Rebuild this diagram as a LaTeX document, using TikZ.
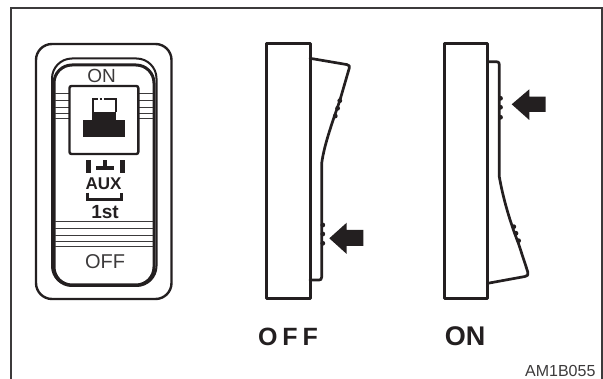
\documentclass[tikz,border=0pt]{standalone}
\usepackage{fontspec}
\setmainfont{Liberation Sans}
\definecolor{ink}{HTML}{231F20}
\definecolor{soft}{HTML}{3C3A3B}
\newcommand{\fs}[1]{\fontsize{#1}{#1}\selectfont}
\tikzset{
  frameline/.style={draw=soft,line width=2pt},
  body/.style={draw=ink,line width=3pt,line join=round},
  rocker/.style={draw=ink,line width=2.7pt,line join=round,line cap=round},
  stripe/.style={draw=soft,line width=1pt},
  bump/.style={fill=ink,draw=none},
  solidink/.style={fill=ink,draw=none},
  lab/.style={inner sep=0pt,anchor=base,text=soft},
  blab/.style={inner sep=0pt,anchor=base,text=ink,font=\bfseries},
}
\begin{document}
\begin{tikzpicture}[x=1pt,y=-1pt]
\useasboundingbox (0,0) rectangle (603,379);
% page frame
\draw[frameline] (11,379) -- (11,8) -- (601.5,8) -- (601.5,379);
% front view
\draw[draw=ink,line width=2.4pt,rounded corners=16pt] (36,44) rectangle (171.5,299);
\draw[draw=ink,line width=2pt,rounded corners=20pt] (52,58.5) rectangle (156.5,286);
\draw[draw=ink,line width=3pt,rounded corners=18pt] (54,65) rectangle (154,285);
\foreach \y in {93.3,100.7,107.3,113.3,118.3}{
  \draw[stripe] (55,\y) -- (69,\y);
  \draw[stripe] (138,\y) -- (153,\y);
}
\foreach \y in {221.7,228.3,236,241.7,246.7}{
  \draw[stripe] (55,\y) -- (153,\y);
}
\node[lab,font=\fs{19}] (fon) at (101.7,83) {ON};
\draw[draw=ink,line width=2.4pt,rounded corners=2pt,fill=white] (69.5,86) rectangle (138.3,154);
% window symbol
\fill[solidink] (83.3,120) rectangle (125,137.3);
\fill[solidink] (91.7,111.7) rectangle (116,120);
\draw[draw=ink,line width=2pt] (92.5,111.7) -- (92.5,99) -- (98,99);
\draw[draw=ink,line width=2pt] (99.5,99) -- (101.5,99);
\draw[draw=ink,line width=2pt] (103.5,99) -- (115.5,99) -- (115.5,111.7);
% marks
\fill[solidink] (85.5,160) rectangle (90.5,173.5);
\fill[solidink] (119.5,160) rectangle (124.5,173.5);
\fill[solidink] (95.7,166.2) rectangle (114,170);
\fill[solidink] (102.8,160) rectangle (107.2,167);
\node[blab,font=\fs{17}\bfseries] (faux) at (103.5,189.3) {AUX};
\draw[draw=ink,line width=2.6pt] (87.7,192.7) -- (87.7,199.7) -- (121.7,199.7) -- (121.7,192.7);
\node[blab,font=\fs{19}\bfseries] (ffirst) at (105,218.3) {1st};
\node[lab,font=\fs{20}] (foff) at (105,269) {OFF};
% OFF side view
\draw[rocker] (310,58.3) -- (347,64.6) .. controls (349.3,65) and (350,66.5) .. (349.3,68)
  -- (340,100) .. controls (331,126) and (324,146) .. (321.7,163.3) -- (321.7,277)
  .. controls (321.7,279.5) and (320.5,280) .. (319,280) -- (310,280);
\draw[body] (266.7,44) rectangle (310,298.3);
\foreach \p in {(339.8,100.7),(337.6,108.3),(335.3,116),(322.8,225),(322.8,234),(322.8,243.3)}{
  \fill[bump] \p circle (2.4pt);
}
\fill[solidink] (329.3,238.3) -- (346.7,222.7) -- (346.7,230) -- (363.3,230)
  -- (363.3,246) -- (346.7,246) -- (346.7,254) -- cycle;
\node[blab,font=\fs{25}\bfseries] (loff) at (288,346) {O\kern5pt F\kern5pt F};
% ON side view
\draw[rocker] (487.7,61.7) -- (496.5,61.7) .. controls (498.5,61.7) and (499.3,62.5) .. (499.3,64.5)
  -- (499.3,176.7) .. controls (503,198) and (510,222) .. (518.3,243)
  -- (527.8,272) .. controls (528.6,275) and (527.5,276) .. (525,276.5) -- (487.7,283.3);
\draw[body] (444.3,44) rectangle (487.7,298.3);
\foreach \p in {(500.5,98.3),(500.5,107.3),(500.5,117.3),(513.8,226.7),(516,233.3),(518.6,240.7)}{
  \fill[bump] \p circle (2.4pt);
}
\fill[solidink] (511.7,104.3) -- (529.3,89.3) -- (529.3,96.7) -- (545.7,96.7)
  -- (545.7,112) -- (529.3,112) -- (529.3,120) -- cycle;
\node[blab,font=\fs{27}\bfseries] (lon) at (465,346) {ON};
\node[lab,font=\fs{16}] (code) at (560.3,377) {AM1B055};
\end{tikzpicture}
\end{document}
